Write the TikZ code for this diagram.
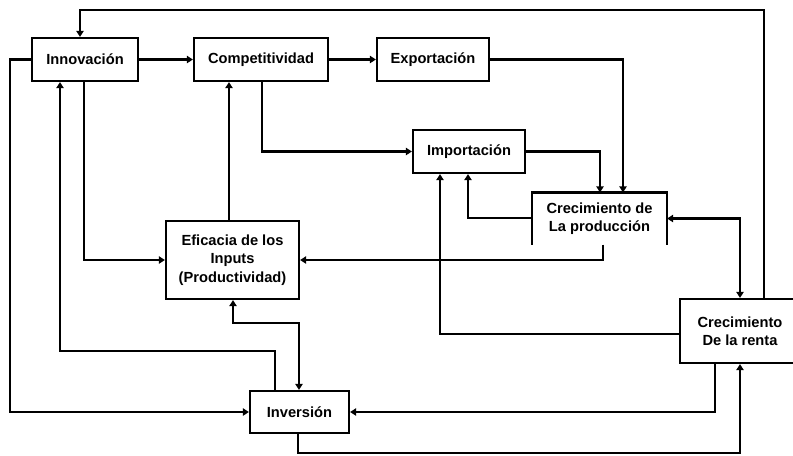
\documentclass[tikz,border=0pt]{standalone}
\usepackage{fontspec}
\setmainfont{Liberation Sans}
\usetikzlibrary{arrows.meta}
\begin{document}
\begin{tikzpicture}[x=0.75pt,y=-0.75pt,
  box/.style={draw,line width=1.7pt,inner sep=0pt,align=center,font=\fontsize{11}{13.8}\selectfont\bfseries},
  sz/.style 2 args={minimum width=#1*0.75pt,minimum height=#2*0.75pt},
  arr/.style={line width=1.8pt,-{Triangle[length=4.5pt,width=5.5pt]}},
  darr/.style={line width=1.8pt,{Triangle[length=4.5pt,width=5.5pt]}-{Triangle[length=4.5pt,width=5.5pt]}},
  ln/.style={line width=1.7pt}]
\useasboundingbox (0,0) rectangle (793,455);
\clip (0,0) rectangle (793,455);
% boxes
\node[box,sz={106}{43}] (inno) at (85,59.5) {Innovación};
\node[box,sz={134}{43}] (comp) at (261,59.5) {Competitividad};
\node[box,sz={112}{43}] (expo) at (433,59.5) {Exportación};
\node[box,sz={112}{43}] (impo) at (469,151.5) {Importación};
\node[box,draw=none,sz={133}{50}] (prod) at (599.5,218.5) {Crecimiento de\\La producción};
\draw[ln] (prod.south west) -- (prod.north west) -- (prod.north east) -- (prod.south east);
\node[box,sz={133}{78}] (efic) at (232.5,260) {Eficacia de los\\Inputs\\(Productividad)};
\node[box,sz={99}{42}] (inve) at (299.5,412) {Inversión};
\node[box,sz={120}{64}] (renta) at (740,331) {Crecimiento\\De la renta};
% connectors
\draw[arr] (renta.north -| 764,0) |- (80,10) -- (inno.north -| 80,0);
\draw[arr] (inno.east) -- (comp.west);
\draw[arr] (comp.east) -- (expo.west);
\draw[arr] (expo.east) -| (prod.north -| 623,0);
\draw[arr] (comp.south -| 262,0) |- (impo.west);
\draw[arr] (impo.east) -| (prod.north -| 600,0);
\draw[arr] (prod.west |- 0,218) -| (impo.south -| 468,0);
\draw[arr] (prod.south -| 603,0) |- (efic.east);
\draw[darr] (prod.east) -| (renta.north -| 740,0);
\draw[arr] (renta.west |- 0,334) -| (impo.south -| 440,0);
\draw[arr] (renta.south -| 715,0) |- (inve.east);
\draw[arr] (inve.south -| 298,0) |- (740,453) -- (renta.south -| 740,0);
\draw[arr] (inno.west) -- (10,59.5) |- (inve.west);
\draw[arr] (inve.north -| 275,0) |- (60,351) -- (inno.south -| 60,0);
\draw[arr] (inno.south -| 84,0) |- (efic.west);
\draw[arr] (efic.north -| 229,0) -- (comp.south -| 229,0);
\draw[darr] (inve.north -| 299,0) |- (233,323) -- (efic.south -| 233,0);
\end{tikzpicture}
\end{document}
